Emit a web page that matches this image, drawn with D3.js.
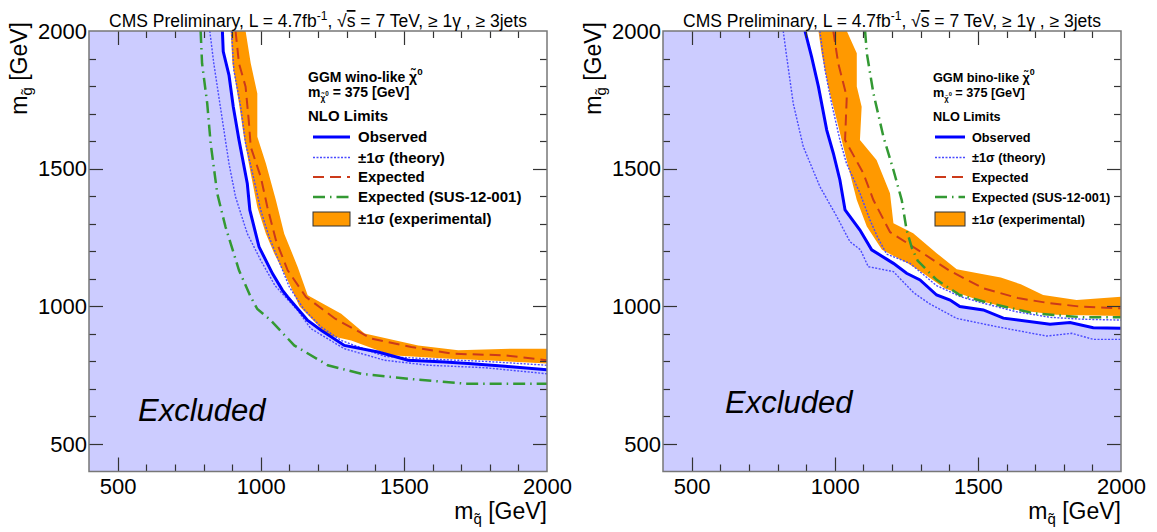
<!DOCTYPE html>
<html>
<head>
<meta charset="utf-8">
<script src="https://cdn.jsdelivr.net/npm/d3@7"></script>
<style>
  body { margin: 0; background: #fff; }
  svg { display: block; font-family: "Liberation Sans", Arial, Helvetica, sans-serif; }
</style>
</head>
<body>
<svg id="chart" width="1157" height="532"></svg>
<script>
// ---- data: [m_squark, m_gluino] in GeV ----
// wino-like panel (left)
const winoObserved = [[866,2000],[869,1925],[889,1840],[904,1725],[924,1604],[953,1446],[962,1349],[994,1216],[1041,1119],[1076,1058],[1094,1034],[1164,949],[1211,913],[1292,858],[1410,834],[1515,804],[1643,798],[1725,792],[1854,782],[2000,770]];
const winoTheoryUp = [[898,2000],[906,1858],[930,1725],[947,1592],[977,1458],[1000,1349],[1029,1252],[1065,1160],[1100,1070],[1150,990],[1211,925],[1281,876],[1433,818],[1643,806],[1783,800],[2000,786]];
const winoTheoryDown = [[822,2000],[836,1882],[866,1676],[889,1519],[912,1397],[953,1264],[1000,1167],[1050,1075],[1129,985],[1175,919],[1292,846],[1433,804],[1585,786],[1783,777],[2000,755]];
const winoExpected = [[912,2000],[924,1882],[947,1798],[959,1664],[965,1579],[1000,1470],[1023,1361],[1053,1240],[1094,1131],[1158,1034],[1260,955],[1386,883],[1526,852],[1667,828],[1854,822],[2000,804]];
const winoExpUp = [[947,2000],[965,1883],[988,1773],[988,1616],[1018,1519],[1053,1385],[1082,1264],[1129,1143],[1164,1040],[1281,973],[1363,901],[1550,858],[1690,840],[1877,846],[2000,846]];
const winoExpDown = [[895,2000],[901,1882],[924,1737],[941,1616],[965,1482],[988,1361],[1018,1264],[1047,1192],[1105,1070],[1135,1000],[1234,895],[1316,876],[1456,822],[1643,810],[1783,804],[2000,792]];
const winoSus = [[790,2000],[795,1882],[813,1737],[825,1592],[848,1410],[877,1288],[924,1131],[965,1034],[988,990],[1035,949],[1117,858],[1234,786],[1351,755],[1515,737],[1713,719],[2000,719]];

// bino-like panel (right)
const binoObserved = [[896,2000],[919,1907],[943,1798],[972,1640],[995,1556],[1018,1459],[1036,1350],[1088,1277],[1129,1205],[1205,1156],[1251,1120],[1298,1096],[1356,1041],[1403,1023],[1437,999],[1519,987],[1589,957],[1752,935],[1822,941],[1903,922],[2000,920]];
const binoTheoryUp = [[948,2000],[966,1858],[989,1737],[1018,1604],[1041,1519],[1088,1411],[1123,1314],[1150,1250],[1181,1190],[1263,1156],[1356,1075],[1440,1035],[1519,1011],[1636,980],[1752,960],[1868,953],[2000,950]];
const binoTheoryDown = [[820,2000],[832,1907],[855,1737],[890,1580],[948,1435],[1007,1326],[1053,1235],[1090,1205],[1117,1144],[1205,1126],[1275,1050],[1330,1010],[1426,956],[1566,926],[1740,892],[1828,902],[1903,880],[2000,880]];
const binoExpected = [[995,2000],[1012,1883],[1042,1761],[1036,1604],[1100,1483],[1135,1386],[1193,1270],[1290,1205],[1400,1130],[1520,1065],[1640,1030],[1740,1013],[1857,999],[2000,993]];
const binoExpUp = [[1042,2000],[1077,1919],[1077,1798],[1094,1725],[1088,1604],[1146,1531],[1193,1411],[1205,1302],[1274,1265],[1356,1193],[1426,1135],[1500,1120],[1580,1105],[1650,1080],[1728,1041],[1845,1023],[2000,1035]];
const binoExpDown = [[943,2000],[954,1919],[977,1798],[1007,1677],[1030,1580],[1053,1483],[1077,1386],[1112,1290],[1165,1205],[1255,1156],[1309,1120],[1385,1065],[1519,1017],[1636,987],[1775,969],[2000,965]];
const binoSus = [[1106,2000],[1112,1919],[1135,1774],[1170,1616],[1205,1495],[1234,1386],[1251,1277],[1270,1210],[1290,1165],[1356,1096],[1437,1041],[1542,1011],[1694,975],[1868,960],[2000,960]];

// axes
const axisDomain = [400, 2000];
const majorTicks = [500, 1000, 1500, 2000];
const minorTicks = [500, 600, 700, 800, 900, 1000, 1100, 1200, 1300, 1400, 1500, 1600, 1700, 1800, 1900];
const legendLabels = ["Observed", "\u00b11\u03c3 (theory)", "Expected", "Expected (SUS-12-001)", "\u00b11\u03c3 (experimental)"];

const COLORS = {
  excluded: "#ccccff",
  band: "#ff9900",
  observed: "#0000ff",
  theory: "#4a4aff",
  expected: "#cc3a1a",
  sus: "#339933"
};

const panels = [
  {
    id: "wino", left: 89, right: 547, top: 31, bottom: 471.5,
    kind: "wino",
    observed: winoObserved, theoryUp: winoTheoryUp, theoryDown: winoTheoryDown,
    expected: winoExpected, expUp: winoExpUp, expDown: winoExpDown, sus: winoSus,
    excluded: { x: 138, y: 421 },
    legend: { hx: 308, hSize: 14, size: 15, symX: 313, symW: 37, textX: 358 }
  },
  {
    id: "bino", left: 663, right: 1121, top: 31, bottom: 471.5,
    kind: "bino",
    observed: binoObserved, theoryUp: binoTheoryUp, theoryDown: binoTheoryDown,
    expected: binoExpected, expUp: binoExpUp, expDown: binoExpDown, sus: binoSus,
    excluded: { x: 725, y: 413 },
    legend: { hx: 933, hSize: 12.7, size: 12.7, symX: 935, symW: 30, textX: 972 }
  }
];

const svg = d3.select("#chart");
const TICK = "#333";

function drawTicks(g, x, y, p) {
  const tg = g.append("g").attr("stroke", TICK).attr("stroke-width", 1.2);
  const len = v => (majorTicks.includes(v) ? 14 : 7);
  minorTicks.forEach(v => {
    const xp = Math.round(x(v)) + 0.5;
    const yp = Math.round(y(v)) + 0.5;
    // bottom and top (pointing inward)
    tg.append("line").attr("x1", xp).attr("x2", xp).attr("y1", p.bottom).attr("y2", p.bottom - len(v));
    tg.append("line").attr("x1", xp).attr("x2", xp).attr("y1", p.top).attr("y2", p.top + len(v));
    // left and right
    tg.append("line").attr("y1", yp).attr("y2", yp).attr("x1", p.left).attr("x2", p.left + len(v));
    tg.append("line").attr("y1", yp).attr("y2", yp).attr("x1", p.right).attr("x2", p.right - len(v));
  });
}

function styleLabels(sel) {
  sel.select(".domain").remove();
  sel.selectAll("line").remove();
  sel.selectAll("text")
    .attr("fill", "#000")
    .attr("font-size", 22)
    .attr("font-family", "\"Liberation Sans\", Arial, sans-serif");
}

function drawPanel(p) {
  const x = d3.scaleLinear().domain(axisDomain).range([p.left, p.right]);
  const y = d3.scaleLinear().domain(axisDomain).range([p.bottom, p.top]);
  const g = svg.append("g");

  g.append("clipPath").attr("id", "clip-" + p.id)
    .append("rect")
    .attr("x", p.left).attr("y", p.top)
    .attr("width", p.right - p.left).attr("height", p.bottom - p.top);

  const plot = g.append("g").attr("clip-path", `url(#clip-${p.id})`);
  const line = d3.line().x(d => x(d[0])).y(d => y(d[1]));

  // excluded region below observed curve
  const excl = p.observed.concat([[axisDomain[1], axisDomain[0]], [axisDomain[0], axisDomain[0]], [axisDomain[0], axisDomain[1]]]);
  plot.append("path").attr("d", line(excl) + "Z").attr("fill", COLORS.excluded);

  // experimental band
  const band = p.expUp.concat(p.expDown.slice().reverse());
  plot.append("path").attr("d", line(band) + "Z").attr("fill", COLORS.band);

  // theory band lines
  [p.theoryUp, p.theoryDown].forEach(c => {
    plot.append("path").attr("d", line(c))
      .attr("fill", "none").attr("stroke", COLORS.theory)
      .attr("stroke-width", 1.4).attr("stroke-dasharray", "2,1.5");
  });

  plot.append("path").attr("d", line(p.expected))
    .attr("fill", "none").attr("stroke", COLORS.expected)
    .attr("stroke-width", 2).attr("stroke-dasharray", "11,6");

  plot.append("path").attr("d", line(p.sus))
    .attr("fill", "none").attr("stroke", COLORS.sus)
    .attr("stroke-width", 2.5).attr("stroke-dasharray", "12,5,1.5,5");

  plot.append("path").attr("d", line(p.observed))
    .attr("fill", "none").attr("stroke", COLORS.observed)
    .attr("stroke-width", 3);

  drawTicks(g, x, y, p);

  g.append("rect")
    .attr("x", p.left).attr("y", p.top)
    .attr("width", p.right - p.left).attr("height", p.bottom - p.top)
    .attr("fill", "none").attr("stroke", "#777").attr("stroke-width", 1.5);

  // tick labels
  const fmt = d3.format("d");
  g.append("g").attr("transform", `translate(0,${p.bottom})`)
    .call(d3.axisBottom(x).tickValues(majorTicks).tickSize(0).tickPadding(7).tickFormat(fmt))
    .call(styleLabels);
  g.append("g").attr("transform", `translate(${p.left},0)`)
    .call(d3.axisLeft(y).tickValues(majorTicks).tickSize(0).tickPadding(2).tickFormat(fmt))
    .call(styleLabels);

  // title
  const t = g.append("text")
    .attr("x", (p.left + p.right) / 2).attr("y", 27)
    .attr("text-anchor", "middle").attr("font-size", 17.5);
  t.append("tspan").text("CMS Preliminary, L = 4.7fb");
  t.append("tspan").attr("font-size", 12).attr("dy", -7).text("-1");
  t.append("tspan").attr("dy", 7).text(", \u221a");
  t.append("tspan").attr("text-decoration", "overline").text("s");
  t.append("tspan").text(" = 7 TeV, \u2265 1\u03b3 , \u2265 3jets");

  // axis titles
  const xt = g.append("text")
    .attr("x", p.right).attr("y", 519)
    .attr("text-anchor", "end").attr("font-size", 23);
  xt.append("tspan").text("m");
  xt.append("tspan").attr("font-size", 15).attr("dy", 5).text("q\u0303");
  xt.append("tspan").attr("dy", -5).text(" [GeV]");

  const yt = g.append("text")
    .attr("transform", `translate(${p.left - 62},22) rotate(-90)`)
    .attr("text-anchor", "end").attr("font-size", 23);
  yt.append("tspan").text("m");
  yt.append("tspan").attr("font-size", 15).attr("dy", 5).text("g\u0303");
  yt.append("tspan").attr("dy", -5).text(" [GeV]");

  // excluded label
  g.append("text")
    .attr("x", p.excluded.x).attr("y", p.excluded.y)
    .attr("font-size", 31).attr("font-style", "italic")
    .text("Excluded");

  drawLegend(g, p);
}

function drawLegend(g, p) {
  const L = p.legend;
  const h1 = g.append("text").attr("x", L.hx).attr("y", 82)
    .attr("font-size", L.hSize).attr("font-weight", "bold");
  h1.append("tspan").text(`GGM ${p.kind}-like \u03c7\u0303`);
  h1.append("tspan").attr("font-size", L.hSize * 0.7).attr("dy", -7).text("0");

  const h2 = g.append("text").attr("x", L.hx).attr("y", 97)
    .attr("font-size", L.hSize).attr("font-weight", "bold");
  h2.append("tspan").text("m");
  h2.append("tspan").attr("font-size", L.hSize * 0.6).attr("dy", 4).text("\u03c7\u0303");
  h2.append("tspan").attr("font-size", L.hSize * 0.45).attr("dy", -5).text("0");
  h2.append("tspan").attr("dy", 1).text(" = 375 [GeV]");

  g.append("text").attr("x", L.hx).attr("y", 121)
    .attr("font-size", L.size).attr("font-weight", "bold")
    .text("NLO Limits");

  const rows = [137, 157.5, 177, 197, 219];
  const styles = [
    { stroke: COLORS.observed, w: 3, dash: null },
    { stroke: COLORS.theory, w: 1.4, dash: "2,1.5" },
    { stroke: COLORS.expected, w: 2, dash: "11,6" },
    { stroke: COLORS.sus, w: 2.5, dash: "12,5,1.5,5" },
    null
  ];
  legendLabels.forEach((lab, i) => {
    const yy = rows[i];
    if (styles[i]) {
      g.append("line")
        .attr("x1", L.symX).attr("x2", L.symX + L.symW)
        .attr("y1", yy).attr("y2", yy)
        .attr("stroke", styles[i].stroke).attr("stroke-width", styles[i].w)
        .attr("stroke-dasharray", styles[i].dash);
    } else {
      g.append("rect")
        .attr("x", L.symX).attr("y", yy - 7)
        .attr("width", L.symW).attr("height", 14)
        .attr("fill", COLORS.band).attr("stroke", "#333").attr("stroke-width", 1);
    }
    g.append("text").attr("x", L.textX).attr("y", yy + L.size * 0.36)
      .attr("font-size", L.size).attr("font-weight", "bold")
      .text(lab);
  });
}

panels.forEach(drawPanel);
</script>
</body>
</html>
